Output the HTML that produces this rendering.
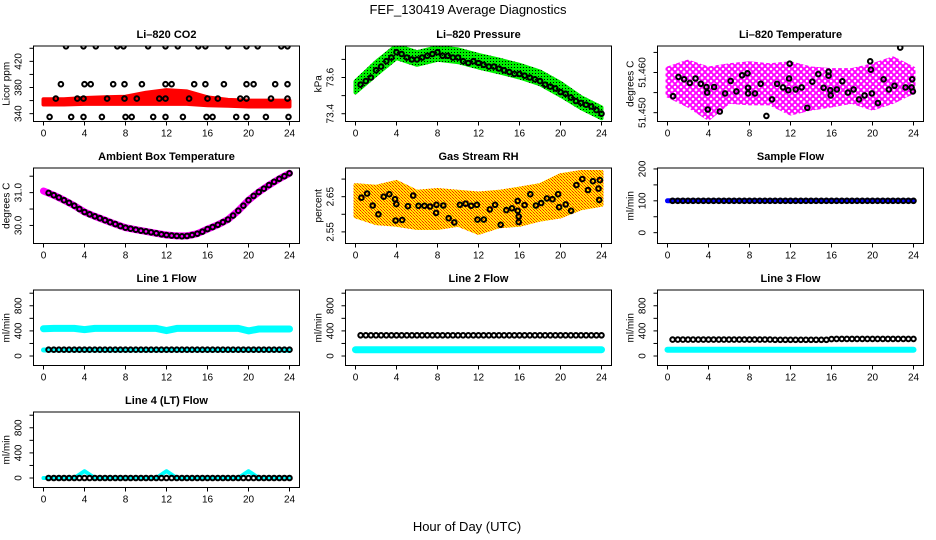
<!DOCTYPE html>
<html><head><meta charset="utf-8"><title>FEF_130419 Average Diagnostics</title>
<style>
html,body{margin:0;padding:0;background:#fff;}
svg{display:block;font-family:"Liberation Sans",Arial,sans-serif;}
</style></head>
<body>
<svg id="chart" xmlns="http://www.w3.org/2000/svg" width="936" height="540" viewBox="0 0 936 540">
<defs>
<pattern id="patGreen" width="3" height="3" patternUnits="userSpaceOnUse"><rect width="3" height="3" fill="#00ee00"/><rect x="1" y="1" width="1" height="1" fill="#000"/></pattern>
<pattern id="patMag" width="6" height="6" patternUnits="userSpaceOnUse"><rect width="6" height="6" fill="#fff"/><circle cx="3" cy="3" r="2.2" fill="none" stroke="#ff00ff" stroke-width="1.8"/></pattern>
<pattern id="patOrange" width="3" height="3" patternUnits="userSpaceOnUse"><rect width="3" height="3" fill="#ffee00"/><rect x="0" y="0" width="1" height="1" fill="#ff2000"/><rect x="1" y="1" width="1" height="1" fill="#ff6000"/><rect x="2" y="2" width="1" height="1" fill="#ff2000"/></pattern>
</defs>
<text x="468" y="14" text-anchor="middle" font-size="13">FEF_130419  Average Diagnostics</text>
<text x="467" y="531" text-anchor="middle" font-size="13">Hour of Day (UTC)</text>
</svg>
<script>
// ---------- data ----------
const xTickVals = [0,4,8,12,16,20,24];
const bandHours = [0,2,4,6,8,10,12,14,16,18,20,22,24];
const hourly = [0,1,2,3,4,5,6,7,8,9,10,11,12,13,14,15,16,17,18,19,20,21,22,23,24];
const halfHours = [0.5,1,1.5,2,2.5,3,3.5,4,4.5,5,5.5,6,6.5,7,7.5,8,8.5,9,9.5,10,10.5,11,11.5,12,12.5,13,13.5,14,14.5,15,15.5,16,16.5,17,17.5,18,18.5,19,19.5,20,20.5,21,21.5,22,22.5,23,23.5,24];

// CO2
const co2Low  = [354,354,355,355,355,355,355,355,353,352,351,351,351];
const co2High = [362,362,364,365,366,372,376,374,365,361,360,360,360];
const co2PtHours = [2.2,3.9,5.1,7.2,7.8,10.2,11.9,13.1,15.1,15.8,18.0,19.8,20.9,23.2,23.8,
  1.7,4.0,4.6,6.8,7.9,9.6,11.9,12.5,14.7,15.8,17.6,19.8,20.5,22.6,23.8,
  1.2,3.3,3.9,6.2,7.9,9.1,11.3,11.9,14.2,16.0,17.0,19.2,19.8,22.2,23.8,
  0.6,2.7,3.9,5.7,8.0,8.6,10.7,11.9,13.6,15.9,16.5,18.8,19.8,21.7,23.9];
const co2PtVals = [443,443,443,443,443,443,443,443,443,443,443,443,443,443,443,
  385,385,385,385,385,385,385,385,385,385,385,385,385,385,385,
  363,363,363,363,363,363,363,363,363,363,363,363,363,363,363,
  335,335,335,335,335,335,335,335,335,335,335,335,335,335,335];

// Pressure
const presCenter = [73.548,73.650,73.742,73.705,73.733,73.720,73.690,73.664,73.635,73.598,73.535,73.461,73.405];
const presHalfWidth = [0.03,0.035,0.035,0.035,0.035,0.035,0.035,0.035,0.035,0.035,0.035,0.03,0.03];
const presPts = [73.56,73.58,73.60,73.64,73.66,73.69,73.71,73.74,73.73,73.71,73.70,73.70,73.71,73.72,73.73,73.74,73.72,73.72,73.71,73.71,73.69,73.68,73.69,73.68,73.67,73.66,73.66,73.65,73.64,73.63,73.62,73.62,73.61,73.60,73.59,73.58,73.56,73.55,73.54,73.52,73.51,73.49,73.47,73.46,73.45,73.44,73.42,73.40];

// Li-820 temperature
const ltTop = [51.4610,51.4627,51.4610,51.4618,51.4623,51.4618,51.4623,51.4610,51.4606,51.4606,51.4618,51.4635,51.4610];
const ltBot = [51.4543,51.4518,51.4485,51.4527,51.4523,51.4523,51.4498,51.4510,51.4518,51.4527,51.4510,51.4527,51.4552];
const ltPtHours = [0.55,1.07,1.62,2.18,2.73,3.25,3.80,3.87,3.93,4.55,5.10,5.62,6.17,6.72,7.28,7.80,7.86,7.86,8.54,9.09,9.65,10.20,10.69,11.27,11.79,11.86,11.92,12.51,13.09,13.64,14.13,14.71,15.23,15.72,15.72,15.88,15.92,16.53,17.05,17.60,18.16,18.68,19.23,19.78,19.84,19.94,20.53,21.08,21.60,22.15,22.70,23.22,23.81,23.87,23.94];
const ltPtVals = [51.4541,51.4589,51.4583,51.4574,51.4585,51.4572,51.4564,51.4550,51.4508,51.4564,51.4503,51.4548,51.4579,51.4553,51.4593,51.4598,51.4562,51.4548,51.4548,51.4572,51.4492,51.4533,51.4572,51.4563,51.4556,51.4585,51.4622,51.4558,51.4563,51.4512,51.4577,51.4596,51.4562,51.4602,51.4592,51.4556,51.4543,51.4558,51.4578,51.4550,51.4558,51.4533,51.4543,51.4628,51.4607,51.4548,51.4524,51.4583,51.4558,51.4567,51.4662,51.4563,51.4563,51.4583,51.4553];

// Ambient box temperature
const ambHourly = [31.05,30.92,30.77,30.60,30.41,30.28,30.16,30.04,29.93,29.87,29.82,29.76,29.71,29.68,29.68,29.75,29.89,30.02,30.18,30.45,30.77,31.02,31.23,31.42,31.59];
const ambPts = [30.99,30.92,30.85,30.77,30.69,30.60,30.50,30.41,30.34,30.28,30.22,30.16,30.10,30.04,29.98,29.93,29.90,29.87,29.84,29.82,29.79,29.76,29.73,29.71,29.69,29.68,29.67,29.68,29.71,29.75,29.81,29.89,29.95,30.02,30.10,30.18,30.30,30.45,30.60,30.77,30.90,31.02,31.12,31.23,31.33,31.42,31.50,31.59];

// Gas stream RH
const rhTop = [2.683,2.678,2.692,2.664,2.669,2.664,2.659,2.664,2.673,2.683,2.711,2.720,2.720];
const rhBot = [2.594,2.575,2.570,2.561,2.561,2.570,2.547,2.566,2.570,2.585,2.594,2.617,2.627];
const rhPtHours = [0.58,1.13,1.68,2.23,2.75,3.30,3.85,3.98,3.91,4.56,5.11,5.63,6.15,6.73,7.28,7.89,7.86,8.57,9.09,9.64,10.19,10.74,11.29,11.84,11.90,12.52,13.10,13.62,14.17,14.72,15.27,15.82,15.82,15.92,15.92,16.50,17.05,17.60,18.12,18.67,19.22,19.77,19.86,20.51,21.03,21.55,22.13,22.68,23.16,23.71,23.84,23.78];
const rhPtVals = [2.647,2.659,2.625,2.600,2.650,2.657,2.643,2.629,2.582,2.584,2.623,2.653,2.624,2.624,2.622,2.627,2.604,2.625,2.589,2.577,2.627,2.630,2.624,2.627,2.585,2.585,2.614,2.627,2.570,2.612,2.617,2.638,2.610,2.594,2.578,2.626,2.657,2.625,2.632,2.645,2.643,2.657,2.620,2.628,2.610,2.683,2.700,2.669,2.694,2.673,2.697,2.641];

// Sample flow
const sampleBlue = [100,100,100,100,100,100,100,100,100,100,100,100,100,100,100,100,100,100,100,100,100,100,100,100,100];
const sampleBlack = [100,100,100,100,100,100,100,100,100,100,100,100,100,100,100,100,100,100,100,100,100,100,100,100,100,100,100,100,100,100,100,100,100,100,100,100,100,100,100,100,100,100,100,100,100,100,100,100];

// Line flows
const line1Cyan = [435,440,440,440,420,440,440,440,440,440,440,440,405,440,440,440,440,440,440,440,400,430,430,430,430];
const line1CyanLow = [95,95,95,95,95,95,95,95,95,95,95,95,95,95,95,95,95,95,95,95,95,95,95,95,90];
const line1Black = [100,100,100,100,100,100,100,100,100,100,100,100,100,100,100,100,100,100,100,100,100,100,100,100,100,100,100,100,100,100,100,100,100,100,100,100,100,100,100,100,100,100,100,100,100,100,100,100];
const line2Cyan = [100,100,100,100,100,100,100,100,100,100,100,100,100,100,100,100,100,100,100,100,100,100,100,100,100];
const line2Black = [330,330,330,330,330,330,330,330,330,330,330,330,330,330,330,330,330,330,330,330,330,330,330,330,330,330,330,330,330,330,330,330,330,330,330,330,330,330,330,330,330,330,330,330,330,330,330,330];
const line3Cyan = [100,100,100,100,100,100,100,100,100,100,100,100,100,100,100,100,100,100,100,100,100,100,100,100,100];
const line3Black = [262,262,262,262,262,262,262,262,262,262,262,262,262,262,262,262,262,262,262,262,258,258,258,258,258,258,258,258,258,258,258,270,272,272,272,272,272,272,272,272,272,272,272,272,272,272,272,272];
const line4Cyan = [0,0,0,0,110,0,0,0,0,0,0,0,110,0,0,0,0,0,0,0,110,0,0,0,0];
const line4Black = [0,0,0,0,0,0,0,0,0,0,0,0,0,0,0,0,0,0,0,0,0,0,0,0,0,0,0,0,0,0,0,0,0,0,0,0,0,0,0,0,0,0,0,0,0,0,0,0];

// ---------- drawing ----------
const NS = 'http://www.w3.org/2000/svg';
const svg = document.getElementById('chart');
function mk(tag, attrs, parent) {
  const e = document.createElementNS(NS, tag);
  for (const k in attrs) e.setAttribute(k, attrs[k]);
  (parent || svg).appendChild(e);
  return e;
}
const COLS = [33.5, 345.5, 657.5];
const PW = 266, PH = 75.5, TOP0 = 46, RSTEP = 122;
let clipId = 0;

function panel(c, r, name, title, ylab, ymin, ymax, ticks, labels) {
  const L = COLS[c], T = TOP0 + RSTEP * r, B = T + PH;
  const g = mk('g', {});
  
  
  const x = h => L + 10 + h / 24 * 246;
  const y = v => B - (v - ymin) / (ymax - ymin) * PH;
  const cp = mk('clipPath', {id: 'cp' + (++clipId)}, g);
  mk('rect', {x: L, y: T, width: PW, height: PH}, cp);
  const plot = mk('g', {'clip-path': 'url(#cp' + clipId + ')'}, g);
  
  
  const tt = mk('text', {x: L + PW / 2, y: T - 8, 'text-anchor': 'middle', 'font-size': '11', 'font-weight': 'bold'}, g);
  
  
  tt.textContent = title;
  const yl = mk('text', {x: L - 24, y: (T + B) / 2, 'text-anchor': 'middle', 'font-size': '10', transform: 'rotate(-90 ' + (L - 24) + ' ' + ((T + B) / 2) + ')'}, g);
  
  
  yl.textContent = ylab;
  const xa = mk('g', {stroke: '#000', 'stroke-width': 1}, g);
  
  
  mk('line', {x1: x(0), x2: x(24), y1: B, y2: B}, xa);
  xTickVals.forEach(v => {
    const tk = mk('line', {x1: x(v), x2: x(v), y1: B, y2: B + 4}, xa);
    
    const tl = mk('text', {x: x(v), y: B + 15, 'text-anchor': 'middle', 'font-size': '10', stroke: 'none'}, xa);
    
    tl.textContent = v;
  });
  const ya = mk('g', {stroke: '#000', 'stroke-width': 1}, g);
  
  
  mk('line', {x1: L, x2: L, y1: y(ticks[0]), y2: y(ticks[ticks.length - 1])}, ya);
  ticks.forEach(v => {
    const tk = mk('line', {x1: L - 4, x2: L, y1: y(v), y2: y(v)}, ya);
    
  });
  labels.forEach(s => {
    const yy = y(parseFloat(s));
    const tl = mk('text', {x: L - 12, y: yy, 'text-anchor': 'middle', 'font-size': '10', stroke: 'none', transform: 'rotate(-90 ' + (L - 12) + ' ' + yy + ')'}, ya);
    
    tl.textContent = s;
  });
  const bx = mk('rect', {x: L, y: T, width: PW, height: PH, fill: 'none', stroke: '#000', 'stroke-width': 1}, g);
  
  
  return {plot, x, y};
}

function band(p, hours, lo, hi, fill, name) {
  let d = '';
  hours.forEach((h, i) => { d += (i ? 'L' : 'M') + p.x(h).toFixed(1) + ' ' + p.y(hi[i]).toFixed(1); });
  for (let i = hours.length - 1; i >= 0; i--) d += 'L' + p.x(hours[i]).toFixed(1) + ' ' + p.y(lo[i]).toFixed(1);
  const e = mk('path', {d: d + 'Z', fill: fill, stroke: fill, 'stroke-width': 4, 'stroke-linejoin': 'round'}, p.plot);
  
  
}
function thick(p, hours, vals, color, w, name) {
  const pts = hours.map((h, i) => p.x(h).toFixed(1) + ',' + p.y(vals[i]).toFixed(1)).join(' ');
  const e = mk('polyline', {points: pts, fill: 'none', stroke: color, 'stroke-width': w, 'stroke-linejoin': 'round', 'stroke-linecap': 'round'}, p.plot);
  
  
}
function circles(p, hours, vals, color, name) {
  const g = mk('g', {fill: 'none', stroke: color, 'stroke-width': 2}, p.plot);
  
  
  hours.forEach((h, i) => {
    const c = mk('circle', {cx: p.x(h).toFixed(1), cy: p.y(vals[i]).toFixed(1), r: 2.3}, g);
    
  });
}

// Li-820 CO2
const pCO2 = panel(0, 0, 'panel-li820-co2', 'Li\u2013820 CO2', 'Licor ppm', 328, 443.5, [340,360,380,400,420,440], ['340','380','420']);
band(pCO2, bandHours, co2Low, co2High, '#ff0000', 'co2-band');
circles(pCO2, co2PtHours, co2PtVals, '#000', 'co2-averages');

// Pressure
const pP = panel(1, 0, 'panel-li820-pressure', 'Li\u2013820 Pressure', 'kPa', 73.357, 73.774, [73.4,73.5,73.6,73.7], ['73.4','73.6']);
band(pP, bandHours, presCenter.map((v, i) => v - presHalfWidth[i]), presCenter.map((v, i) => v + presHalfWidth[i]), 'url(#patGreen)', 'pressure-band');
circles(pP, halfHours, presPts, '#000', 'pressure-averages');

// Li temp
const pT = panel(2, 0, 'panel-li820-temperature', 'Li\u2013820 Temperature', 'degrees C', 51.4478, 51.4666, [51.450,51.455,51.460,51.465], ['51.450','51.460']);
band(pT, bandHours, ltBot, ltTop, 'url(#patMag)', 'li-temp-band');
circles(pT, ltPtHours, ltPtVals, '#000', 'li-temp-averages');

// Ambient box temperature
const pA = panel(0, 1, 'panel-ambient-box-temperature', 'Ambient Box Temperature', 'degrees C', 29.45, 31.75, [30,30.5,31,31.5], ['30.0','31.0']);
thick(pA, hourly, ambHourly, '#ff00ff', 7, 'ambient-temp-band');
circles(pA, halfHours, ambPts, '#000', 'ambient-temp-averages');

// Gas stream RH
const pR = panel(1, 1, 'panel-gas-stream-rh', 'Gas Stream RH', 'percent', 2.517, 2.7315, [2.55,2.60,2.65,2.70], ['2.55','2.65']);
band(pR, bandHours, rhBot, rhTop, 'url(#patOrange)', 'rh-band');
circles(pR, rhPtHours, rhPtVals, '#000', 'rh-averages');

// Sample flow
const pS = panel(2, 1, 'panel-sample-flow', 'Sample Flow', 'ml/min', -34, 203, [0,50,100,150,200], ['0','100','200']);
thick(pS, hourly, sampleBlue, '#0000ff', 5, 'sample-flow-band');
circles(pS, halfHours, sampleBlack, '#000', 'sample-flow-averages');

const flowTicks = [0,200,400,600,800,1000], flowLabels = ['0','400','800'];
// Line 1
const p1 = panel(0, 2, 'panel-line1-flow', 'Line 1 Flow', 'ml/min', -151, 1051, flowTicks, flowLabels);
thick(p1, hourly, line1Cyan, '#00ffff', 7, 'line1-cyan-band');
thick(p1, hourly, line1CyanLow, '#00ffff', 5, 'line1-cyan-low');
circles(p1, halfHours, line1Black, '#000', 'line1-averages');
// Line 2
const p2 = panel(1, 2, 'panel-line2-flow', 'Line 2 Flow', 'ml/min', -151, 1051, flowTicks, flowLabels);
thick(p2, hourly, line2Cyan, '#00ffff', 7, 'line2-cyan-band');
circles(p2, halfHours, line2Black, '#000', 'line2-averages');
// Line 3
const p3 = panel(2, 2, 'panel-line3-flow', 'Line 3 Flow', 'ml/min', -151, 1051, flowTicks, flowLabels);
thick(p3, hourly, line3Cyan, '#00ffff', 6, 'line3-cyan-band');
circles(p3, halfHours, line3Black, '#000', 'line3-averages');
// Line 4
const p4 = panel(0, 3, 'panel-line4-flow', 'Line 4 (LT) Flow', 'ml/min', -151, 1051, flowTicks, flowLabels);
thick(p4, hourly, line4Cyan, '#00ffff', 4, 'line4-cyan-band');
circles(p4, halfHours, line4Black, '#000', 'line4-averages');
</script>
</body></html>
